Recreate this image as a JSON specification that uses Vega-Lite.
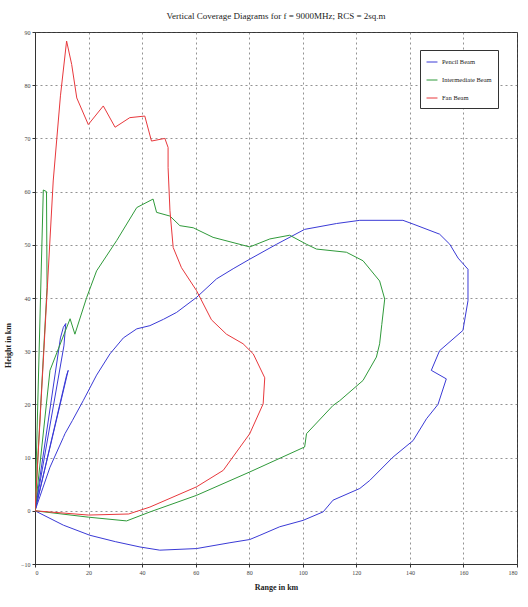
{
  "$schema": "https://vega.github.io/schema/vega-lite/v6.json",
  "width": 482,
  "height": 532,
  "autosize": {"type": "none"},
  "padding": {"left": 35, "top": 32, "right": 11, "bottom": 43},
  "background": "white",
  "title": {"text": "Vertical Coverage Diagrams for f = 9000MHz; RCS = 2sq.m", "font": "Liberation Serif", "fontSize": 9, "fontWeight": "normal", "color": "#222", "offset": 8},
  "config": {
    "view": {"stroke": "#333", "strokeWidth": 1},
    "axis": {"labelFont": "Liberation Sans Narrow", "labelFontSize": 6, "labelColor": "#444", "titleFont": "Liberation Sans Narrow", "titleFontSize": 8, "titleColor": "#222", "gridColor": "#555", "gridDash": [2, 3], "gridOpacity": 0.8, "gridWidth": 0.8, "domainColor": "#333", "tickColor": "#333", "tickSize": 3}
  },
  "data": {"values": [
    {"beam":"Pencil Beam","part":"b1","o":0,"x":0,"y":0},
    {"beam":"Pencil Beam","part":"b1","o":1,"x":5.6,"y":8.2},
    {"beam":"Pencil Beam","part":"b1","o":2,"x":10.6,"y":13.8},
    {"beam":"Pencil Beam","part":"b1","o":3,"x":11.2,"y":14.5},
    {"beam":"Pencil Beam","part":"b1","o":4,"x":14,"y":17},
    {"beam":"Pencil Beam","part":"b1","o":5,"x":18,"y":20.7},
    {"beam":"Pencil Beam","part":"b1","o":6,"x":23,"y":25.5},
    {"beam":"Pencil Beam","part":"b1","o":7,"x":28,"y":29.5},
    {"beam":"Pencil Beam","part":"b1","o":8,"x":33,"y":32.5},
    {"beam":"Pencil Beam","part":"b1","o":9,"x":38,"y":34.2},
    {"beam":"Pencil Beam","part":"b1","o":10,"x":42.9,"y":34.8},
    {"beam":"Pencil Beam","part":"b1","o":11,"x":48,"y":36},
    {"beam":"Pencil Beam","part":"b1","o":12,"x":52.9,"y":37.3},
    {"beam":"Pencil Beam","part":"b1","o":13,"x":60.3,"y":40.1},
    {"beam":"Pencil Beam","part":"b1","o":14,"x":67.8,"y":43.6},
    {"beam":"Pencil Beam","part":"b1","o":15,"x":74,"y":45.5},
    {"beam":"Pencil Beam","part":"b1","o":16,"x":80.2,"y":47.3},
    {"beam":"Pencil Beam","part":"b1","o":17,"x":90.2,"y":50.1},
    {"beam":"Pencil Beam","part":"b1","o":18,"x":100.7,"y":52.9},
    {"beam":"Pencil Beam","part":"b1","o":19,"x":112.6,"y":54},
    {"beam":"Pencil Beam","part":"b1","o":20,"x":121.3,"y":54.6},
    {"beam":"Pencil Beam","part":"b1","o":21,"x":137.4,"y":54.6},
    {"beam":"Pencil Beam","part":"b1","o":22,"x":141.2,"y":53.9},
    {"beam":"Pencil Beam","part":"b1","o":23,"x":151.1,"y":52},
    {"beam":"Pencil Beam","part":"b1","o":24,"x":154.9,"y":50.1},
    {"beam":"Pencil Beam","part":"b1","o":25,"x":158,"y":47.5},
    {"beam":"Pencil Beam","part":"b1","o":26,"x":161.7,"y":45.4},
    {"beam":"Pencil Beam","part":"b1","o":27,"x":161.7,"y":39.5},
    {"beam":"Pencil Beam","part":"b1","o":28,"x":159.8,"y":33.9},
    {"beam":"Pencil Beam","part":"b1","o":29,"x":151.1,"y":30.1},
    {"beam":"Pencil Beam","part":"b1","o":30,"x":148,"y":26.4},
    {"beam":"Pencil Beam","part":"b1","o":31,"x":153.6,"y":24.8},
    {"beam":"Pencil Beam","part":"b1","o":32,"x":150.5,"y":20},
    {"beam":"Pencil Beam","part":"b1","o":33,"x":146.2,"y":17.3},
    {"beam":"Pencil Beam","part":"b1","o":34,"x":141.2,"y":13.2},
    {"beam":"Pencil Beam","part":"b1","o":35,"x":133.7,"y":10.1},
    {"beam":"Pencil Beam","part":"b1","o":36,"x":125,"y":5.7},
    {"beam":"Pencil Beam","part":"b1","o":37,"x":121.3,"y":4.2},
    {"beam":"Pencil Beam","part":"b1","o":38,"x":111.3,"y":2},
    {"beam":"Pencil Beam","part":"b1","o":39,"x":107.6,"y":-0.2},
    {"beam":"Pencil Beam","part":"b1","o":40,"x":100.1,"y":-1.8},
    {"beam":"Pencil Beam","part":"b1","o":41,"x":91.4,"y":-3},
    {"beam":"Pencil Beam","part":"b1","o":42,"x":84,"y":-4.6},
    {"beam":"Pencil Beam","part":"b1","o":43,"x":80.2,"y":-5.4},
    {"beam":"Pencil Beam","part":"b1","o":44,"x":72.8,"y":-6},
    {"beam":"Pencil Beam","part":"b1","o":45,"x":60.3,"y":-7.1},
    {"beam":"Pencil Beam","part":"b1","o":46,"x":46.6,"y":-7.4},
    {"beam":"Pencil Beam","part":"b1","o":47,"x":39.2,"y":-6.8},
    {"beam":"Pencil Beam","part":"b1","o":48,"x":30,"y":-5.8},
    {"beam":"Pencil Beam","part":"b1","o":49,"x":20.5,"y":-4.6},
    {"beam":"Pencil Beam","part":"b1","o":50,"x":10.6,"y":-2.7},
    {"beam":"Pencil Beam","part":"b1","o":51,"x":0,"y":0},
    {"beam":"Pencil Beam","part":"b2","o":0,"x":0,"y":0},
    {"beam":"Pencil Beam","part":"b2","o":1,"x":9.5,"y":32.5},
    {"beam":"Pencil Beam","part":"b2","o":2,"x":10.6,"y":34.5},
    {"beam":"Pencil Beam","part":"b2","o":3,"x":11.5,"y":35.2},
    {"beam":"Pencil Beam","part":"b2","o":4,"x":10.8,"y":31},
    {"beam":"Pencil Beam","part":"b2","o":5,"x":0,"y":0},
    {"beam":"Pencil Beam","part":"b3","o":0,"x":0,"y":0},
    {"beam":"Pencil Beam","part":"b3","o":1,"x":11.8,"y":25.5},
    {"beam":"Pencil Beam","part":"b3","o":2,"x":12.4,"y":26.4},
    {"beam":"Pencil Beam","part":"b3","o":3,"x":0,"y":0},
    {"beam":"Intermediate Beam","part":"g1","o":0,"x":0,"y":0},
    {"beam":"Intermediate Beam","part":"g1","o":1,"x":3.1,"y":60.3},
    {"beam":"Intermediate Beam","part":"g1","o":2,"x":4.3,"y":60},
    {"beam":"Intermediate Beam","part":"g1","o":3,"x":4.5,"y":42},
    {"beam":"Intermediate Beam","part":"g1","o":4,"x":0,"y":0},
    {"beam":"Intermediate Beam","part":"g2","o":0,"x":0,"y":0},
    {"beam":"Intermediate Beam","part":"g2","o":1,"x":5.6,"y":26.4},
    {"beam":"Intermediate Beam","part":"g2","o":2,"x":13.1,"y":36.1},
    {"beam":"Intermediate Beam","part":"g2","o":3,"x":14.9,"y":33.2},
    {"beam":"Intermediate Beam","part":"g2","o":4,"x":19.3,"y":40.1},
    {"beam":"Intermediate Beam","part":"g2","o":5,"x":23,"y":45.1},
    {"beam":"Intermediate Beam","part":"g2","o":6,"x":30.5,"y":50.8},
    {"beam":"Intermediate Beam","part":"g2","o":7,"x":38,"y":57},
    {"beam":"Intermediate Beam","part":"g2","o":8,"x":44.1,"y":58.6},
    {"beam":"Intermediate Beam","part":"g2","o":9,"x":45.4,"y":56.1},
    {"beam":"Intermediate Beam","part":"g2","o":10,"x":50.4,"y":55.4},
    {"beam":"Intermediate Beam","part":"g2","o":11,"x":54.1,"y":53.6},
    {"beam":"Intermediate Beam","part":"g2","o":12,"x":59.1,"y":53.2},
    {"beam":"Intermediate Beam","part":"g2","o":13,"x":66.5,"y":51.4},
    {"beam":"Intermediate Beam","part":"g2","o":14,"x":80.2,"y":49.6},
    {"beam":"Intermediate Beam","part":"g2","o":15,"x":87.7,"y":51.1},
    {"beam":"Intermediate Beam","part":"g2","o":16,"x":95.1,"y":51.8},
    {"beam":"Intermediate Beam","part":"g2","o":17,"x":101.4,"y":50.1},
    {"beam":"Intermediate Beam","part":"g2","o":18,"x":105.1,"y":49.2},
    {"beam":"Intermediate Beam","part":"g2","o":19,"x":116.3,"y":48.6},
    {"beam":"Intermediate Beam","part":"g2","o":20,"x":122.5,"y":47},
    {"beam":"Intermediate Beam","part":"g2","o":21,"x":128.7,"y":43.2},
    {"beam":"Intermediate Beam","part":"g2","o":22,"x":130.6,"y":39.8},
    {"beam":"Intermediate Beam","part":"g2","o":23,"x":129.5,"y":35},
    {"beam":"Intermediate Beam","part":"g2","o":24,"x":128.7,"y":31.4},
    {"beam":"Intermediate Beam","part":"g2","o":25,"x":127.5,"y":28.9},
    {"beam":"Intermediate Beam","part":"g2","o":26,"x":122.5,"y":24.5},
    {"beam":"Intermediate Beam","part":"g2","o":27,"x":113.8,"y":20.7},
    {"beam":"Intermediate Beam","part":"g2","o":28,"x":111.3,"y":19.8},
    {"beam":"Intermediate Beam","part":"g2","o":29,"x":101.4,"y":14.5},
    {"beam":"Intermediate Beam","part":"g2","o":30,"x":100.7,"y":12},
    {"beam":"Intermediate Beam","part":"g2","o":31,"x":80.2,"y":7.3},
    {"beam":"Intermediate Beam","part":"g2","o":32,"x":60.3,"y":2.9},
    {"beam":"Intermediate Beam","part":"g2","o":33,"x":43,"y":-0.2},
    {"beam":"Intermediate Beam","part":"g2","o":34,"x":34.2,"y":-1.9},
    {"beam":"Intermediate Beam","part":"g2","o":35,"x":20,"y":-1.2},
    {"beam":"Intermediate Beam","part":"g2","o":36,"x":0,"y":0},
    {"beam":"Fan Beam","part":"r1","o":0,"x":0,"y":0},
    {"beam":"Fan Beam","part":"r1","o":1,"x":20,"y":-0.8},
    {"beam":"Fan Beam","part":"r1","o":2,"x":35,"y":-0.6},
    {"beam":"Fan Beam","part":"r1","o":3,"x":42.9,"y":0.7},
    {"beam":"Fan Beam","part":"r1","o":4,"x":60.3,"y":4.5},
    {"beam":"Fan Beam","part":"r1","o":5,"x":70.3,"y":7.6},
    {"beam":"Fan Beam","part":"r1","o":6,"x":80.2,"y":14.5},
    {"beam":"Fan Beam","part":"r1","o":7,"x":85.2,"y":20.1},
    {"beam":"Fan Beam","part":"r1","o":8,"x":85.8,"y":25},
    {"beam":"Fan Beam","part":"r1","o":9,"x":81.5,"y":29.5},
    {"beam":"Fan Beam","part":"r1","o":10,"x":77.7,"y":31.4},
    {"beam":"Fan Beam","part":"r1","o":11,"x":71.5,"y":33.2},
    {"beam":"Fan Beam","part":"r1","o":12,"x":65.9,"y":35.9},
    {"beam":"Fan Beam","part":"r1","o":13,"x":60.3,"y":41.4},
    {"beam":"Fan Beam","part":"r1","o":14,"x":54.7,"y":45.7},
    {"beam":"Fan Beam","part":"r1","o":15,"x":51.6,"y":49.5},
    {"beam":"Fan Beam","part":"r1","o":16,"x":50.4,"y":56.4},
    {"beam":"Fan Beam","part":"r1","o":17,"x":49.7,"y":64.5},
    {"beam":"Fan Beam","part":"r1","o":18,"x":49.7,"y":68.3},
    {"beam":"Fan Beam","part":"r1","o":19,"x":48.5,"y":70},
    {"beam":"Fan Beam","part":"r1","o":20,"x":43.5,"y":69.5},
    {"beam":"Fan Beam","part":"r1","o":21,"x":41,"y":74.2},
    {"beam":"Fan Beam","part":"r1","o":22,"x":35.4,"y":73.9},
    {"beam":"Fan Beam","part":"r1","o":23,"x":29.9,"y":72.1},
    {"beam":"Fan Beam","part":"r1","o":24,"x":25.5,"y":76.1},
    {"beam":"Fan Beam","part":"r1","o":25,"x":19.9,"y":72.6},
    {"beam":"Fan Beam","part":"r1","o":26,"x":15.6,"y":77.6},
    {"beam":"Fan Beam","part":"r1","o":27,"x":13.7,"y":83.9},
    {"beam":"Fan Beam","part":"r1","o":28,"x":11.8,"y":88.3},
    {"beam":"Fan Beam","part":"r1","o":29,"x":9.5,"y":78},
    {"beam":"Fan Beam","part":"r1","o":30,"x":6.8,"y":62},
    {"beam":"Fan Beam","part":"r1","o":31,"x":3.3,"y":30},
    {"beam":"Fan Beam","part":"r1","o":32,"x":0,"y":0}
  ]},
  "mark": {"type": "line", "strokeWidth": 1, "clip": true},
  "encoding": {
    "x": {"field": "x", "type": "quantitative", "scale": {"domain": [0, 180], "nice": false}, "axis": {"values": [0,20,40,60,80,100,120,140,160,180], "title": "Range in km", "titleFontWeight": "bold", "titlePadding": 8}},
    "y": {"field": "y", "type": "quantitative", "scale": {"domain": [-10, 90], "nice": false}, "axis": {"values": [-10,0,10,20,30,40,50,60,70,80,90], "title": "Height in km", "titleFontWeight": "bold", "titlePadding": 8, "titleY": 313}},
    "color": {"field": "beam", "type": "nominal", "scale": {"domain": ["Pencil Beam", "Intermediate Beam", "Fan Beam"], "range": ["#3a3ad6", "#2f9a3a", "#e8383c"]},
      "legend": {"title": null, "orient": "none", "legendX": 385, "legendY": 18, "fillColor": "white", "strokeColor": "#333", "padding": 6, "labelFont": "Liberation Sans Narrow", "labelFontSize": 6.5, "labelColor": "#222", "symbolType": "stroke", "symbolSize": 120, "symbolStrokeWidth": 1, "rowPadding": 8}},
    "detail": {"field": "part"},
    "order": {"field": "o", "type": "quantitative"}
  }
}
